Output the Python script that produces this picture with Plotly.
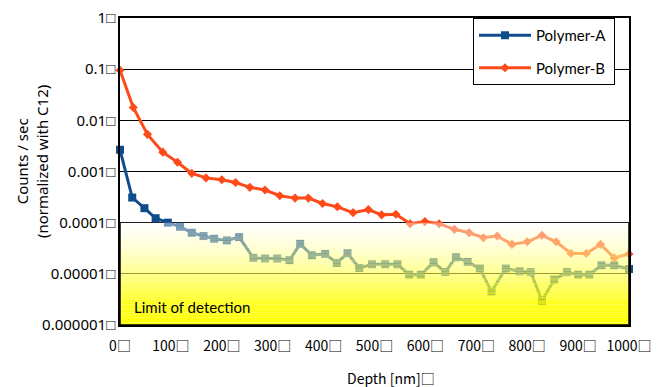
import plotly.graph_objects as go
import math

# ---- data ----
depth_a = [0, 24, 48, 70, 94, 118, 141, 164, 185, 210, 234, 262, 285, 309, 333, 354,
           377, 403, 426, 447, 470, 495, 521, 545, 568, 591, 616, 639, 660, 683, 707,
           730, 758, 785, 807, 829, 853, 878, 900, 922, 946, 971, 1000]
polymer_a = [0.00266, 0.00031, 0.000192, 0.000122, 0.0001, 0.0000834, 0.0000636,
             0.0000547, 0.0000484, 0.000045, 0.0000523, 0.0000205, 0.0000199,
             0.0000199, 0.0000185, 0.0000386, 0.0000231, 0.0000245, 0.0000163,
             0.0000253, 0.000013, 0.0000154, 0.0000154, 0.0000154, 0.0000096,
             0.0000096, 0.0000168, 0.0000108, 0.0000211, 0.0000171, 0.0000127,
             0.0000045, 0.0000127, 0.0000112, 0.0000108, 0.00000297, 0.0000077,
             0.0000108, 0.0000096, 0.0000096, 0.0000147, 0.0000147, 0.0000124]

depth_b = [0, 26, 54, 84, 113, 141, 169, 200, 227, 255, 285, 314, 344, 370, 398, 427,
           458, 488, 514, 542, 570, 599, 627, 657, 686, 714, 741, 770, 800, 829, 857,
           886, 916, 944, 971, 1000]
polymer_b = [0.095, 0.0179, 0.00532, 0.00239, 0.00152, 0.00092, 0.00075, 0.00069,
             0.00061, 0.00049, 0.000434, 0.000336, 0.000302, 0.000302, 0.000237,
             0.000204, 0.000157, 0.00018, 0.000142, 0.000146, 0.0000955, 0.000105,
             0.0000955, 0.0000741, 0.0000636, 0.0000507, 0.000055, 0.0000376,
             0.0000423, 0.0000565, 0.0000423, 0.000025, 0.000025, 0.0000376,
             0.0000205, 0.0000245]

x_tick_vals = [0, 100, 200, 300, 400, 500, 600, 700, 800, 900, 1000]
x_tick_text = ["0□", "100□", "200□", "300□", "400□", "500□", "600□", "700□",
               "800□", "900□", "1000□"]
y_tick_vals = [1e-6, 1e-5, 1e-4, 1e-3, 1e-2, 1e-1, 1]
y_tick_text = ["0.000001□", "0.00001□", "0.0001□", "0.001□", "0.01□", "0.1□", "1□"]

series_names = ["Polymer-A\u00a0", "Polymer-B\u00a0"]
lod_low, lod_high = 1e-6, 1e-4
lod_label = "Limit of detection"

BLUE = "#0f4c8c"
ORANGE = "#ff4a1a"

fig = go.Figure()
fig.add_trace(go.Scatter(x=depth_a, y=polymer_a, name=series_names[0], mode="lines+markers",
                         line=dict(color=BLUE, width=3),
                         marker=dict(symbol="square", size=8, color=BLUE),
                         cliponaxis=False, legendgroup="a"))
fig.add_trace(go.Scatter(x=depth_b, y=polymer_b, name=series_names[1], mode="lines+markers",
                         line=dict(color=ORANGE, width=3),
                         marker=dict(symbol="diamond", size=7, color=ORANGE),
                         cliponaxis=False, legendgroup="b"))

# gradient "limit of detection" band (paper coords; y axis log range -6..0)
ylo = (math.log10(lod_low) + 6) / 6
yhi = (math.log10(lod_high) + 6) / 6
N = 40
shapes = []
for i in range(N):
    t0 = i / N
    t1 = (i + 1) / N
    t = (i + 0.5) / N
    a = 0.42 + 0.56 * t
    b = int(round(255 * (1 - min(1, 1.3 * t))))
    shapes.append(dict(type="rect", xref="paper", yref="paper", x0=0, x1=1,
                       y0=yhi - (yhi - ylo) * t1, y1=yhi - (yhi - ylo) * t0,
                       fillcolor=f"rgba(255,255,{b},{a:.3f})", line=dict(width=0),
                       layer="above"))
# axis lines redrawn over the band
for s in [dict(x0=0, x1=0, y0=0, y1=yhi), dict(x0=0, x1=1, y0=0, y1=0),
          dict(x0=1, x1=1, y0=0, y1=yhi)]:
    shapes.append(dict(type="line", xref="paper", yref="paper", line=dict(color="black", width=1.5),
                       layer="above", **s))

fig.update_layout(
    width=661, height=387,
    margin=dict(l=120, r=32, t=18, b=62),
    paper_bgcolor="white", plot_bgcolor="white",
    showlegend=True,
    legend=dict(x=(473 - 120) / 509, y=1, xanchor="left", yanchor="top",
                bgcolor="white", bordercolor="black", borderwidth=1,
                font=dict(family="Lato", size=15, color="black"),
                itemwidth=52, tracegroupgap=10, traceorder="grouped"),
    shapes=shapes,
    annotations=[
        dict(text=lod_label, xref="paper", yref="paper", x=(132 - 120) / 509, y=(325 - 307) / 307,
             xanchor="left", yanchor="middle", showarrow=False,
             font=dict(family="Lato", size=15, color="black")),
        dict(text="Counts / sec<br>(normalized with C12)", xref="paper", yref="paper",
             x=(32 - 120) / 509, y=(325 - 162) / 307, textangle=-90,
             xanchor="center", yanchor="middle", showarrow=False,
             font=dict(family="Noto Sans", size=15, color="black")),
        dict(text="Depth [nm]□", xref="paper", yref="paper",
             x=(391 - 120) / 509, y=(325 - 378) / 307,
             xanchor="center", yanchor="middle", showarrow=False,
             font=dict(family="Noto Sans CJK JP", size=14, color="black")),
    ],
)
fig.update_xaxes(range=[0, 1000], tickvals=x_tick_vals, ticktext=x_tick_text,
                 showgrid=False, zeroline=False, showline=True, mirror=True,
                 linecolor="black", linewidth=1.5, ticks="", ticklabelstandoff=7,
                 automargin=False,
                 tickfont=dict(family="Noto Sans CJK JP", size=14, color="black"))
fig.update_yaxes(type="log", range=[-6, 0], tickvals=y_tick_vals, ticktext=y_tick_text,
                 showgrid=True, gridcolor="black", gridwidth=1, zeroline=False,
                 showline=True, mirror=True, linecolor="black", linewidth=1.5, ticks="",
                 automargin=False,
                 tickfont=dict(family="Noto Sans", size=15, color="black"))

fig.write_html("out.html", config={"displayModeBar": False},
               post_script="document.body.style.margin='0';")
